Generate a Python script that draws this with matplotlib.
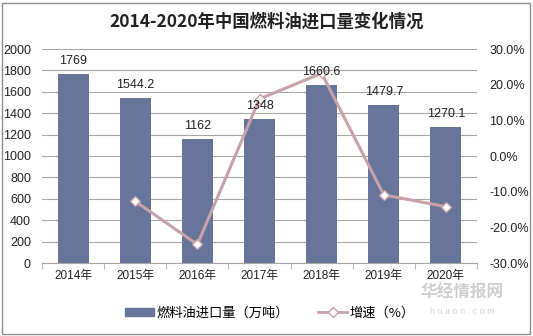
import matplotlib
matplotlib.use("Agg")
import matplotlib.pyplot as plt
from matplotlib.patches import Rectangle
from matplotlib.lines import Line2D
from matplotlib.ticker import FuncFormatter, MultipleLocator

plt.rcParams['font.family'] = ['Liberation Sans', 'Noto Sans CJK SC', 'DejaVu Sans']

years = ['2014年', '2015年', '2016年', '2017年', '2018年', '2019年', '2020年']
imports = [1769, 1544.2, 1162, 1348, 1660.6, 1479.7, 1270.1]
import_labels = ['1769', '1544.2', '1162', '1348', '1660.6', '1479.7', '1270.1']
growth_years = ['2015年', '2016年', '2017年', '2018年', '2019年', '2020年']
growth = [-12.7, -24.8, 16.0, 23.2, -10.9, -14.2]

W, H = 533, 336
fig = plt.figure(figsize=(W/100, H/100), dpi=100)
ax = fig.add_axes([42/W, 1-263/H, (477-42)/W, (263-49)/H])

bar_color = '#68759B'
line_color = '#C9A1A9'
txt = '#222222'
x = list(range(len(years)))
ax.bar(x, imports, width=0.5, color=bar_color, zorder=2)
ax.set_xlim(-0.5, len(years)-0.5)
ax.set_ylim(0, 2000)
ax.yaxis.set_major_locator(MultipleLocator(200))
ax.grid(axis='y', color='#A6A6A6', linewidth=0.8, zorder=0)
ax.set_axisbelow(True)
for s in ['top', 'right', 'left']:
    ax.spines[s].set_visible(False)
ax.spines['bottom'].set_color('#A6A6A6')
ax.set_xticks(x)
ax.set_xticklabels(years, fontsize=8.5, color=txt)
ax.tick_params(axis='x', length=0, pad=5)
ax.set_xticks([i+0.5 for i in range(-1, len(years))], minor=True)
ax.tick_params(axis='x', which='minor', length=4, color='#A6A6A6')
ax.tick_params(axis='y', length=0, labelsize=9, labelcolor=txt, pad=8)

ax2 = ax.twinx()
ax2.set_ylim(-30, 30)
ax2.yaxis.set_major_locator(MultipleLocator(10))
ax2.yaxis.set_major_formatter(FuncFormatter(lambda v, p: f'{v:.1f}%'))
ax2.tick_params(axis='y', length=0, labelsize=9, labelcolor=txt, pad=9)
for s in ['top', 'right', 'left', 'bottom']:
    ax2.spines[s].set_visible(False)
gx = [years.index(y) for y in growth_years]
ax2.plot(gx, growth, color=line_color, linewidth=2.2, marker='D', markersize=5,
         markerfacecolor='white', markeredgecolor=line_color, markeredgewidth=1, zorder=3)

for xi, v, lab in zip(x, imports, import_labels):
    ax2.annotate(lab, (xi, v), xycoords=ax.transData, xytext=(0, 5),
                 textcoords='offset points', ha='center', va='bottom',
                 fontsize=9, color=txt, zorder=5)

fig.text(0.5, 1-22/H, '2014-2020年中国燃料油进口量变化情况', ha='center', va='center',
         fontsize=12.5, fontweight='bold', color=txt, family=['Noto Sans CJK SC'])

handles = [Rectangle((0, 0), 1, 1, color=bar_color),
           Line2D([], [], color=line_color, linewidth=2, marker='D', markersize=5,
                  markerfacecolor='white', markeredgecolor=line_color)]
fig.legend(handles, ['燃料油进口量（万吨）', '增速（%）'], loc='center',
           bbox_to_anchor=(270/W, 1-313/H), ncol=2, frameon=False,
           prop={'family': ['Noto Sans CJK SC'], 'size': 9.5},
           handlelength=2.2, handleheight=0.5, columnspacing=2.2, handletextpad=0.2)

fig.text(462/W, 1-293/H, '华经情报网', fontsize=12, color='#CFCFCF', fontweight='bold',
         va='center', ha='center', family=['Noto Sans CJK SC'])
fig.text(462/W, 1-311/H, 'h u a o n . c o m', fontsize=6.5, color='#D5D5D5',
         va='center', ha='center')

fig.add_artist(Rectangle((2/W, 2/H), (W-5)/W, (H-5)/H, transform=fig.transFigure,
                         fill=False, edgecolor='#8C8C8C', linewidth=1))

fig.savefig('out.png', dpi=100)
